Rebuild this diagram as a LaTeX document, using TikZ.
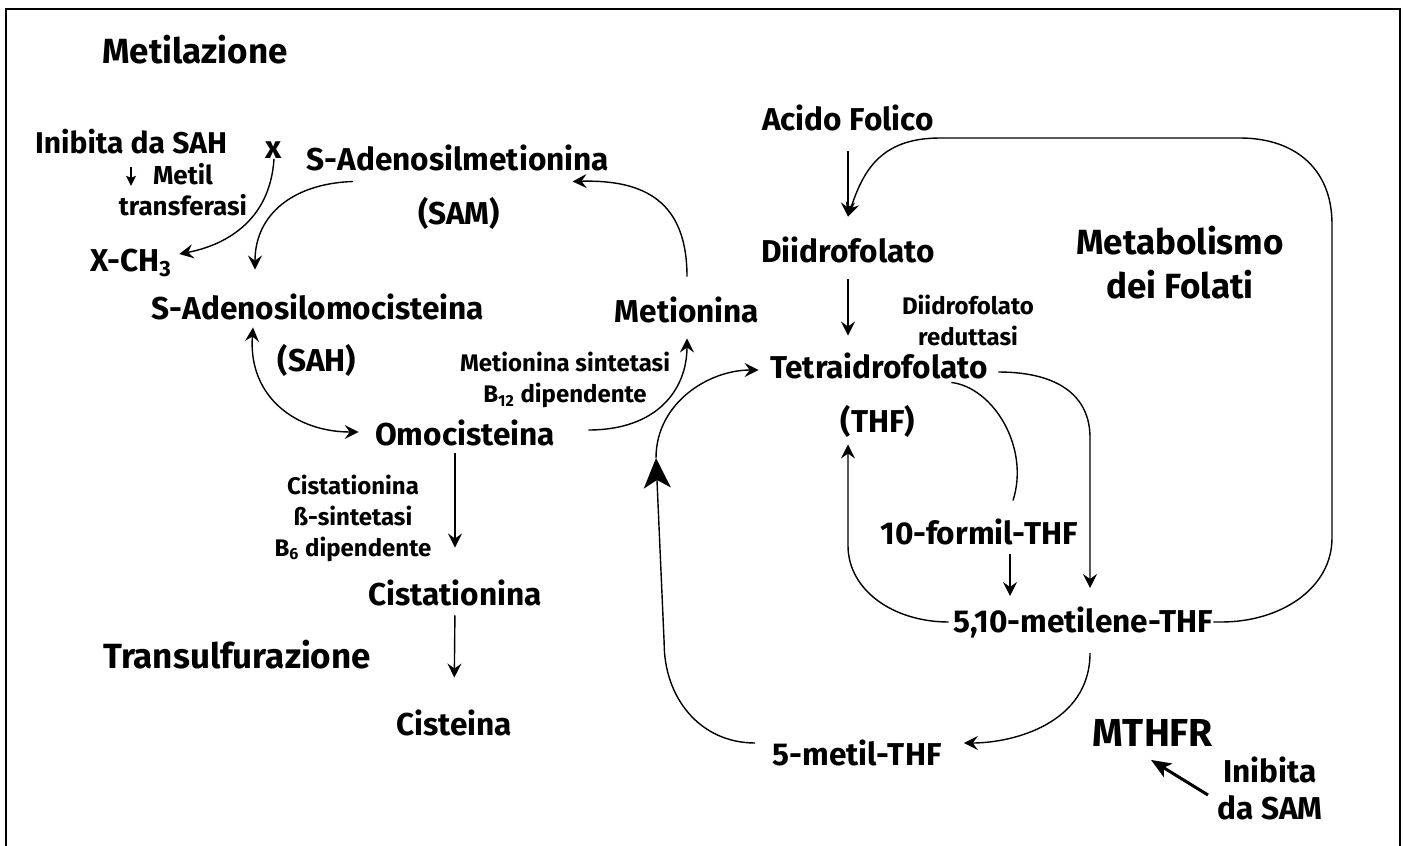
\documentclass[tikz,border=0pt]{standalone}
\usepackage{fontspec}
\setmainfont{Fira Sans}
\usetikzlibrary{arrows.meta,positioning}

\begin{document}
\begin{tikzpicture}[x=0.5pt,y=-0.5pt,
    lbl/.style={font=\bfseries\fontsize{15.8}{18.5}\selectfont,inner sep=0pt,align=center},
    enz/.style={font=\bfseries\fontsize{12}{15.5}\selectfont,inner sep=0pt,align=center},
    tit/.style={font=\bfseries\fontsize{17.5}{22}\selectfont,inner sep=0pt,align=center},
    arr/.style={line width=0.7pt,-{Stealth[length=7pt,width=7pt,inset=2.5pt]}},
    dbl/.style={line width=0.7pt,{Stealth[length=7pt,width=7pt,inset=2.5pt]}-{Stealth[length=7pt,width=7pt,inset=2.5pt]}},
    sarr/.style={line width=0.7pt,-{Stealth[length=5pt,width=5pt,inset=1pt]}},
    bigarr/.style={line width=0.7pt,-{Stealth[length=15pt,width=13.5pt,inset=4pt]}},
    thkarr/.style={line width=1.5pt,-{Stealth[length=10pt,width=8pt,inset=2.5pt]}}]
	\useasboundingbox (0,0) rectangle (1404,846);
	\draw[line width=1pt] (6,850) -- (6,9) -- (1400,9) -- (1400,850);
	% titoli
	\node[tit] (metilaz) at (195,50) {Metilazione};
	\node[tit] (transulf) at (237,655) {Transulfurazione};
	\node[tit] (folati) at (1180,263) {Metabolismo\\dei Folati};
	\node[tit,font=\bfseries\fontsize{19.5}{22}\selectfont] (mthfr) at (1153,733) {MTHFR};
	% ciclo della metilazione
	\node[lbl] (sam) at (458,158) {S-Adenosilmetionina};
	\node[lbl] (samab) at (459,213) {(SAM)};
	\node[lbl] (sah) at (318,307) {S-Adenosilomocisteina};
	\node[lbl] (sahab) at (317,360) {(SAH)};
	\node[lbl] (omo) at (465,433) {Omocisteina};
	\node[lbl] (met) at (687,310) {Metionina};
	\node[lbl] (cist) at (455,593) {Cistationina};
	\node[lbl] (cis) at (454,723) {Cisteina};
	\node[lbl] (xx) at (274,150) {x};
	\node[lbl] (xch) at (131,263) {X-CH\textsubscript{3}};
	\node[lbl,font=\bfseries\fontsize{15}{18}\selectfont] (inibsah) at (131,142) {Inibita da SAH};
	\node[enz,font=\bfseries\fontsize{13}{15.5}\selectfont] (mtrans) at (183,190) {Metil\\transferasi};
	\node[enz] (msint) at (565,380) {Metionina sintetasi\\B\textsubscript{12} dipendente};
	\node[enz] (cbs) at (353,518) {Cistationina\\ß-sintetasi\\B\textsubscript{6} dipendente};
	% folati
	\node[lbl] (acido) at (848,118) {Acido Folico};
	\node[lbl] (diidro) at (848,250) {Diidrofolato};
	\node[lbl] (thf) at (879,366) {Tetraidrofolato};
	\node[lbl] (thfab) at (878,421) {(THF)};
	\node[lbl] (formil) at (979,532) {10-formil-THF};
	\node[lbl] (metilene) at (1083,622) {5,10-metilene-THF};
	\node[lbl] (metilthf) at (857,753) {5-metil-THF};
	\node[enz] (dhfr) at (968,320) {Diidrofolato\\reduttasi};
	\node[lbl] (inibsam) at (1270,788) {Inibita\\da SAM};

	\draw[sarr] ([yshift=-6pt]inibsah.south) -- ++(0,19);
	\draw[arr] (xx.south) .. controls +(-4,65) and +(42,-8) .. ([shift={(7,-9)}]xch.east);
	\draw[arr] ([shift={(-105,10)}]sam.south) .. controls +(-60,2) and +(0,-55) .. ([shift={(-63,-24)}]sah.north);
	\draw[arr] ([yshift=10pt]met.north) .. controls +(0,-75) and +(72,-2) .. ([shift={(-37,10)}]sam.south east);
	\draw[dbl] ([shift={(-65,7)}]sah.south) .. controls +(-5,70) and +(-62,0) .. ([shift={(-16,-1)}]omo.west);
	\draw[arr] ([shift={(33,-3)}]omo.east) .. controls +(70,0) and +(0,50) .. ([yshift=-7.5pt]met.south);
	\draw[arr,shorten <=3.5pt,shorten >=16pt] (omo.south -| cist.north) -- (cist.north);
	\draw[arr,shorten <=4.5pt,shorten >=16pt] (cist.south) -- (cis.north);

	\coordinate (dtop) at ([yshift=10pt]diidro.north);
	\coordinate (lb) at (1332,538);
	\coordinate (lt) at (1332,224);
	\coordinate (tr) at (1240,138);
	\coordinate (tl) at (940,138);
	\coordinate (tbot) at ([xshift=-15pt,yshift=-3.5pt]thfab.south);
	\coordinate (rv) at ([xshift=3.5pt,yshift=9pt]metilene.north);
	\coordinate (fa) at ([xshift=15.5pt,yshift=-4.5pt]formil.south);
	\coordinate (up) at (656,458);
	\draw[arr,shorten <=10pt] (acido.south) -- (dtop);
	\draw[arr,shorten <=8pt,shorten >=8.5pt] (diidro.south) -- (diidro.south |- thf.north);
	\draw[arr] (metilene.east) -- ++(8,0) .. controls +(60,0) and +(0,50) .. (lb) -- (lt) .. controls +(0,-55) and +(55,0) .. (tr) -- (tl) .. controls +(-60,0) and +(15,-45) .. (dtop);
	\draw[arr] ([xshift=-2pt]metilene.west) .. controls +(-55,0) and +(0,45) .. (tbot |- formil.south) -- (tbot);
	\draw[arr] ([shift={(10,6)}]thf.east) .. controls +(62,0) and +(0,-40) .. (rv |- thfab.south) -- (rv);
	\draw[line width=0.7pt] ([shift={(-37,3)}]thf.south east) .. controls +(42,5) and +(17,-53) .. ([shift={(34,-18)}]formil.north);
	\draw[arr,shorten >=5pt] (fa) -- (fa |- metilene.north);
	\draw[arr] ([shift={(7,15)}]metilene.south) .. controls +(0,70) and +(50,0) .. ([shift={(22,-10)}]metilthf.east);
	\draw[bigarr] ([shift={(-17,-10)}]metilthf.west) .. controls +(-55,0) and +(0,55) .. ++(-91,-100) -- (up);
	\draw[arr] (up) .. controls +(0,-55) and +(-50,0) .. ([shift={(-11,4)}]thf.west);
	\draw[thkarr] ([shift={(-9,7)}]inibsam.west) -- ([shift={(-2,13)}]mthfr.south);
\end{tikzpicture}
\end{document}
